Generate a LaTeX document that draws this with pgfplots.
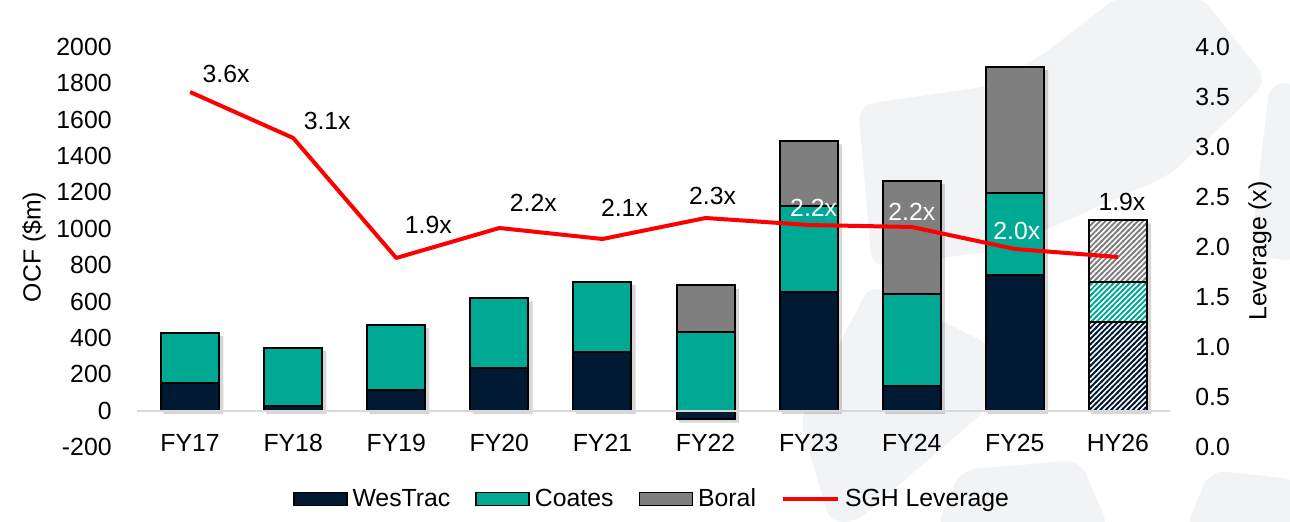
\documentclass[border=0pt]{standalone}
\usepackage{fontspec}
\setmainfont{Liberation Sans}
\usepackage{pgfplots}
\usepackage{pgfplotstable}
\pgfplotsset{compat=1.18}
\usetikzlibrary{patterns}
\definecolor{westrac}{HTML}{001A33}
\definecolor{coates}{HTML}{00A994}
\definecolor{boral}{HTML}{7F7F7F}
\definecolor{bgshape}{HTML}{F2F3F5}
\definecolor{zeroline}{HTML}{D9D9D9}
\definecolor{lev}{HTML}{FF0000}
\newcommand\lab{\fontsize{12.4}{14.5}\selectfont}

\pgfdeclarepatternformonly{stripes}{\pgfqpoint{-1pt}{-1pt}}{\pgfqpoint{4pt}{4pt}}{\pgfqpoint{2.7pt}{2.7pt}}{%
  \pgfsetlinewidth{0.95pt}%
  \pgfpathmoveto{\pgfqpoint{-0.3pt}{-0.3pt}}%
  \pgfpathlineto{\pgfqpoint{3.0pt}{3.0pt}}%
  \pgfusepath{stroke}%
}

\pgfplotstableread{
x y
0 3.55
1 3.09
2 1.89
3 2.19
4 2.08
5 2.29
6 2.22
7 2.20
8 1.98
9 1.90
}\levdata

\pgfplotstableread{
x y dx dy lab
0 3.55 18 9 3.6x
1 3.09 17 8.5 3.1x
2 1.89 16 16.5 1.9x
3 2.19 17 12.5 2.2x
4 2.08 11 15.5 2.1x
5 2.29 3.5 11 2.3x
9 1.90 2 27.5 1.9x
}\levblack

\pgfplotstableread{
x y dx dy lab
6 2.22 2.5 8.75 2.2x
7 2.20 0 7.5 2.2x
8 1.98 1 9 2.0x
}\levwhite

\pgfplotsset{
  base/.style={
    scale only axis, width=516.5pt, height=200pt,
    xmin=-0.515, xmax=9.505,
    axis line style={draw=none}, tick style={draw=none}, major tick length=0pt,
    clip=false,
  },
  hatch/.style={preaction={fill=white}, pattern=stripes, pattern color=#1, draw=black, line width=1pt},
}

\begin{document}
\begin{tikzpicture}
\begin{scope}[shift={(-68.5pt,223.5pt)}, x=0.5pt, y=-0.5pt]
  \path[use as bounding box] (0,0) rectangle (1290,522);
  \fill[bgshape, rounded corners=8pt] (858,105) -- (990,86) -- (1045,53) -- (1120,-5) -- (1200,-5) -- (1268,81) -- (1170,175) -- (1000,250) -- (872,268) -- cycle;
  \fill[bgshape, rounded corners=6pt] (870,285) -- (990,345) -- (986,410) -- (856,522) -- (830,522) -- (800,420) -- cycle;
  \fill[bgshape, rounded corners=8pt] (936,530) -- (960,470) -- (1080,460) -- (1110,530) -- cycle;
  \fill[bgshape, rounded corners=8pt] (1185,530) -- (1210,470) -- (1300,480) -- (1300,530) -- cycle;
  \fill[bgshape, rounded corners=8pt] (1270,82) -- (1300,84) -- (1300,262) -- (1250,255) -- cycle;
\end{scope}

% shadow axis
\begin{axis}[base, at={(1.6pt,-1.8pt)}, hide axis, ymin=-200, ymax=2000,
  ybar stacked, bar width=30pt]
  \addplot[fill=black, draw=none, opacity=0.16] coordinates {(0,429) (1,347) (2,473) (3,621) (4,710) (5,-46) (6,1484) (7,1265) (8,1892) (9,1050)};
  \addplot[fill=black, draw=none, opacity=0.16] coordinates {(0,0) (1,0) (2,0) (3,0) (4,0) (5,690) (6,0) (7,0) (8,0) (9,0)};
\end{axis}

% bar axis
\begin{axis}[base, ymin=-200, ymax=2000,
  ybar stacked, bar width=29pt,
  ytick={-200,0,200,400,600,800,1000,1200,1400,1600,1800,2000},
  yticklabels={-200,0,200,400,600,800,1000,1200,1400,1600,1800,2000},
  xtick={0,1,2,3,4,5,6,7,8,9},
  xticklabels={FY17,FY18,FY19,FY20,FY21,FY22,FY23,FY24,FY25,HY26},
  ticklabel style={font=\lab},
  yticklabel style={anchor=east, inner sep=0pt, xshift=-12.5pt},
  xticklabel style={anchor=center, inner sep=0pt, yshift=2pt},
  ylabel={OCF (\$m)},
  every axis y label/.style={at={(rel axis cs:0,0.5)}, xshift=-51.5pt, rotate=90, anchor=center, font=\lab},
]
  \draw[zeroline, line width=1pt] (axis cs:-0.515,0) -- (axis cs:9.505,0);
  \addplot[fill=westrac, draw=black, line width=1pt] coordinates {(0,154) (1,27) (2,115) (3,236) (4,325) (5,-46) (6,654) (7,137) (8,744) (9,0)};
  \addplot[fill=coates, draw=black, line width=1pt] coordinates {(0,275) (1,320) (2,358) (3,385) (4,385) (5,430) (6,471) (7,503) (8,455) (9,0)};
  \addplot[fill=boral, draw=black, line width=1pt] coordinates {(0,0) (1,0) (2,0) (3,0) (4,0) (5,260) (6,359) (7,625) (8,693) (9,0)};
  \addplot[hatch=westrac] coordinates {(0,0) (1,0) (2,0) (3,0) (4,0) (5,0) (6,0) (7,0) (8,0) (9,487)};
  \addplot[hatch=coates] coordinates {(0,0) (1,0) (2,0) (3,0) (4,0) (5,0) (6,0) (7,0) (8,0) (9,220)};
  \addplot[hatch=boral] coordinates {(0,0) (1,0) (2,0) (3,0) (4,0) (5,0) (6,0) (7,0) (8,0) (9,343)};
\end{axis}

% leverage axis
\begin{axis}[base, ymin=0, ymax=4,
  xtick=\empty,
  ytick={0,0.5,1,1.5,2,2.5,3,3.5,4},
  yticklabels={0.0,0.5,1.0,1.5,2.0,2.5,3.0,3.5,4.0},
  yticklabel pos=right,
  ticklabel style={font=\lab},
  yticklabel style={anchor=west, inner sep=0pt, xshift=12.5pt},
  ylabel={Leverage (x)},
  every axis y label/.style={at={(rel axis cs:1,0.49)}, xshift=45pt, rotate=90, anchor=center, font=\lab},
  legend columns=4,
  legend style={at={(0.5,-0.13)}, anchor=center, draw=none, fill=none, font=\lab,
    inner sep=0pt, nodes={inner sep=2.5pt},
    /tikz/every even column/.append style={column sep=10pt}},
]
  \addlegendimage{legend image code/.code={\draw[fill=westrac, draw=black, line width=0.8pt] (0pt,-3.25pt) rectangle (26.5pt,3.25pt);}}
  \addlegendentry{WesTrac}
  \addlegendimage{legend image code/.code={\draw[fill=coates, draw=black, line width=0.8pt] (0pt,-3.25pt) rectangle (26.5pt,3.25pt);}}
  \addlegendentry{Coates}
  \addlegendimage{legend image code/.code={\draw[fill=boral, draw=black, line width=0.8pt] (0pt,-3.25pt) rectangle (26.5pt,3.25pt);}}
  \addlegendentry{Boral}
  \addplot[lev, line width=2pt, mark=none, line join=round,
    legend image code/.code={\draw[lev, line width=2pt] (0pt,0pt) -- (27.5pt,0pt);}] table[x=x, y=y] {\levdata};
  \addlegendentry{SGH Leverage}

  \addplot[draw=none, mark=none, forget plot, nodes near coords, point meta=explicit symbolic,
    visualization depends on={\thisrow{dx}\as\dx},
    visualization depends on={\thisrow{dy}\as\dy},
    nodes near coords style={anchor=center, inner sep=0pt, text=black, font=\lab, xshift={\dx*1pt}, yshift={\dy*1pt}}]
    table[x=x, y=y, meta=lab] {\levblack};
  \addplot[draw=none, mark=none, forget plot, nodes near coords, point meta=explicit symbolic,
    visualization depends on={\thisrow{dx}\as\dx},
    visualization depends on={\thisrow{dy}\as\dy},
    nodes near coords style={anchor=center, inner sep=0pt, text=white, font=\lab, xshift={\dx*1pt}, yshift={\dy*1pt}}]
    table[x=x, y=y, meta=lab] {\levwhite};
\end{axis}
\end{tikzpicture}
\end{document}
